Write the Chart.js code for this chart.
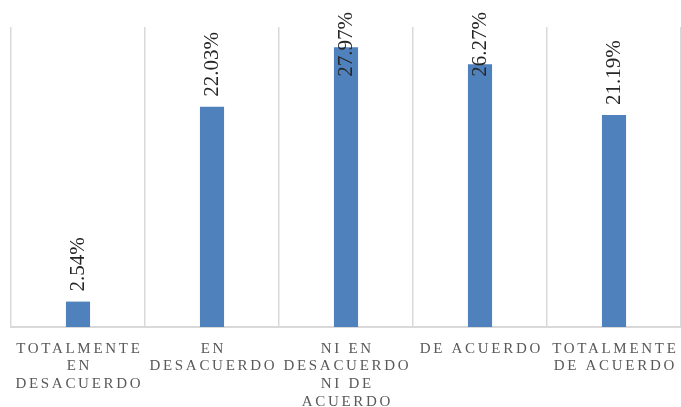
<!DOCTYPE html>
<html>
<head>
<meta charset="utf-8">
<script src="https://cdn.jsdelivr.net/npm/chart.js@4"></script>
<style>
html,body{margin:0;padding:0;background:#fff;}
#wrap{width:681px;height:407px;}
</style>
</head>
<body>
<div id="wrap"><canvas id="c" width="681" height="407"></canvas></div>
<script>
const categories = [
  ["TOTALMENTE", "EN", "DESACUERDO"],
  ["EN", "DESACUERDO"],
  ["NI EN", "DESACUERDO", "NI DE", "ACUERDO"],
  ["DE ACUERDO"],
  ["TOTALMENTE", "DE ACUERDO"]
];
const values = [2.54, 22.03, 27.97, 26.27, 21.19];
const yMin = 0;
const yMax = 30;

const SERIF = '"Liberation Serif", "Times New Roman", serif';

// category labels drawn at the x scale's tick positions (letter-spaced serif caps)
const categoryLabels = {
  id: 'categoryLabels',
  afterDraw(chart) {
    const ctx = chart.ctx;
    const xs = chart.scales.x;
    const spacing = 2.7;
    const firstBaseline = xs.bottom + 25.5;
    const lineStep = 17.7;
    ctx.save();
    ctx.font = '15px ' + SERIF;
    ctx.letterSpacing = spacing + 'px';
    ctx.fillStyle = '#595959';
    ctx.textAlign = 'left';
    ctx.textBaseline = 'alphabetic';
    categories.forEach((lines, i) => {
      const cx = xs.getPixelForTick(i);
      lines.forEach((line, j) => {
        const w = ctx.measureText(line).width - spacing;
        ctx.fillText(line, cx - w / 2, firstBaseline + j * lineStep);
      });
    });
    ctx.restore();
  }
};

const valueLabels = {
  id: 'valueLabels',
  afterDatasetsDraw(chart) {
    const ctx = chart.ctx;
    const meta = chart.getDatasetMeta(0);
    ctx.save();
    ctx.font = '21px ' + SERIF;
    ctx.fillStyle = '#262626';
    ctx.textAlign = 'left';
    ctx.textBaseline = 'middle';
    meta.data.forEach((bar, i) => {
      const txt = values[i].toFixed(2) + '%';
      const w = ctx.measureText(txt).width;
      let start = bar.y - 10;
      if (start - w < 12) start = 12 + w;
      ctx.save();
      ctx.translate(bar.x, start);
      ctx.rotate(-Math.PI / 2);
      ctx.fillText(txt, 0, 0);
      ctx.restore();
    });
    ctx.restore();
  }
};

new Chart(document.getElementById('c'), {
  type: 'bar',
  data: {
    labels: categories,
    datasets: [{
      data: values,
      backgroundColor: '#4f81bd',
      borderWidth: 0,
      categoryPercentage: 1,
      barPercentage: 0.18
    }]
  },
  options: {
    responsive: false,
    animation: false,
    layout: { padding: { left: 11, right: 0, top: 27, bottom: 80 } },
    plugins: { legend: { display: false }, tooltip: { enabled: false } },
    scales: {
      x: {
        grid: {
          color: (c) => (c.index === categories.length ? 'rgba(0,0,0,0)' : '#d9d9d9'),
          lineWidth: 1.5, drawTicks: false, tickLength: 0, offset: true
        },
        border: { color: '#d9d9d9', width: 2 },
        ticks: { display: false }
      },
      y: { display: false, min: yMin, max: yMax }
    }
  },
  plugins: [categoryLabels, valueLabels]
});
</script>
</body>
</html>
